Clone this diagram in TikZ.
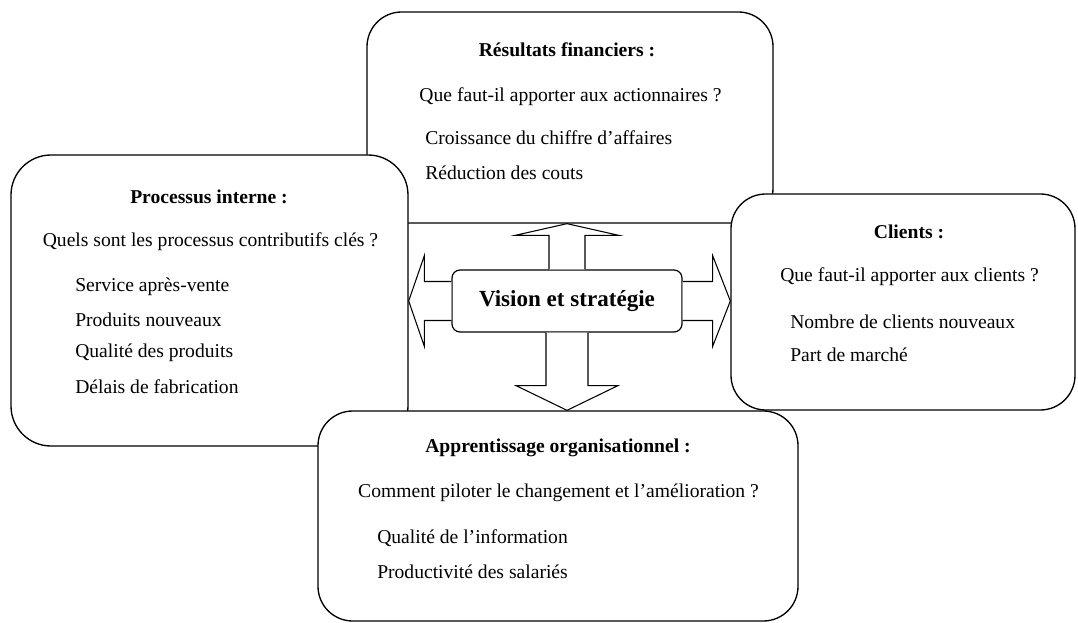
\documentclass[tikz,border=0pt]{standalone}
\usepackage{fontspec}
\setmainfont{Liberation Serif}
\usetikzlibrary{calc,positioning}
\tikzset{
card/.style={rectangle,rounded corners=26pt,inner sep=0pt,
draw=black,fill=white,line width=1pt},
core/.style={rectangle,rounded corners=6pt,inner sep=0pt,
draw=black,fill=white,line width=0.9pt,
minimum width=172.5pt,minimum height=46.5pt,
font=\fontsize{17.3}{20}\selectfont\bfseries},
bigarrow/.style={draw=black,fill=white,line width=0.8pt,line join=miter},
title/.style={font=\fontsize{14.7}{17}\selectfont\bfseries},
item/.style={anchor=west,inner sep=0pt}
}
\begin{document}
\begin{tikzpicture}[x=0.75pt,y=-0.75pt,font=\fontsize{14.7}{17}\selectfont]
\useasboundingbox (0,0) rectangle (1078,623);

% Resultats financiers
\node[card,minimum width=304.5pt,minimum height=158.25pt] (fin) at (570,117.5) {};
\node[title] (finT) at (567,50) {Résultats financiers :};
\node (finQ) at (570.5,97) {Que faut-il apporter aux actionnaires ?};
\node[item] (finA) at (425,138) {Croissance du chiffre d’affaires};
\node[item] (finB) at (425,173) {Réduction des couts};

% Processus interne
\node[card,rounded corners=30pt,minimum width=297.75pt,minimum height=218.25pt] (proc) at (209.5,300.5) {};
\node[title] (procT) at (209,197) {Processus interne :};
\node (procQ) at (210.5,242) {Quels sont les processus contributifs clés ?};
\node[item] (procA) at (75,287) {Service après-vente};
\node[item] (procB) at (75,320) {Produits nouveaux};
\node[item] (procC) at (75,353) {Qualité des produits};
\node[item] (procD) at (75,387) {Délais de fabrication};

% Clients
\node[card,minimum width=258pt,minimum height=162pt] (cli) at (903,302) {};
\node[title] (cliT) at (909,232) {Clients :};
\node (cliQ) at (909.5,277) {Que faut-il apporter aux clients ?};
\node[item] (cliA) at (790,322) {Nombre de clients nouveaux};
\node[item] (cliB) at (790,355) {Part de marché};

% Apprentissage organisationnel
\node[card,minimum width=360pt,minimum height=157.5pt] (app) at (558,516) {};
\node[title] (appT) at (558,448) {Apprentissage organisationnel :};
\node (appQ) at (558.5,493) {Comment piloter le changement et l’amélioration ?};
\node[item] (appA) at (377,538) {Qualité de l’information};
\node[item] (appB) at (377,572) {Productivité des salariés};

% Vision et strategie
\node[core] (vis) at (567,301) {Vision et stratégie};

\draw[bigarrow] ($(vis.north)+(-18,0)$) -- ++(0,-34) -- ++(-34,0)
-- (vis.north |- fin.south) -- ($(vis.north)+(52,-34)$) -- ++(-34,0) -- ($(vis.north)+(18,0)$);
\draw[bigarrow] ($(vis.south)+(-21,0)$) -- ++(0,53) -- ++(-30,0)
-- (vis.south |- app.north) -- ($(vis.south)+(51,53)$) -- ++(-30,0) -- ($(vis.south)+(21,0)$);
\draw[bigarrow] ($(vis.west)+(0,-19.5)$) -- ++(-27,0) -- ++(0,-26)
-- (proc.east |- vis.west) -- ($(vis.west)+(-27,45.5)$) -- ++(0,-26) -- ($(vis.west)+(0,19.5)$);
\draw[bigarrow] ($(vis.east)+(0,-19.5)$) -- ++(30,0) -- ++(0,-26)
-- (cli.west |- vis.east) -- ($(vis.east)+(30,45.5)$) -- ++(0,-26) -- ($(vis.east)+(0,19.5)$);

\end{tikzpicture}
\end{document}
